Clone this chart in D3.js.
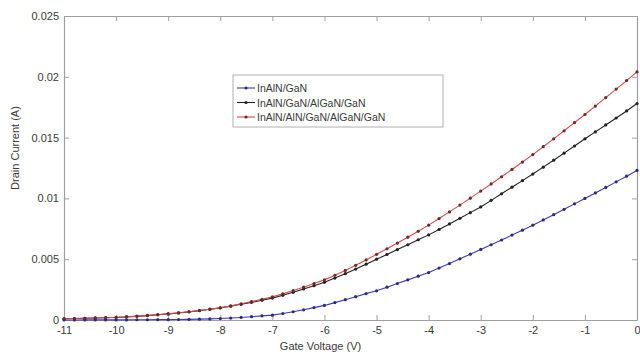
<!DOCTYPE html>
<html>
<head>
<meta charset="utf-8">
<script src="https://cdn.jsdelivr.net/npm/d3@7"></script>
<style>
html,body{margin:0;padding:0;background:#fff;}
svg{display:block;font-family:"Liberation Sans",Arial,sans-serif;}
</style>
</head>
<body>
<svg id="chart" width="640" height="354"></svg>
<script>
const gateVoltage = [-11,-10.8,-10.6,-10.4,-10.2,-10,-9.8,-9.6,-9.4,-9.2,-9,-8.8,-8.6,-8.4,-8.2,-8,-7.8,-7.6,-7.4,-7.2,-7,-6.8,-6.6,-6.4,-6.2,-6,-5.8,-5.6,-5.4,-5.2,-5,-4.8,-4.6,-4.4,-4.2,-4,-3.8,-3.6,-3.4,-3.2,-3,-2.8,-2.6,-2.4,-2.2,-2,-1.8,-1.6,-1.4,-1.2,-1,-0.8,-0.6,-0.4,-0.2,0];
const inAlN_GaN = [0,0,0.00001,0.00001,0.00001,0.00001,0.00001,0.00002,0.00002,0.00003,0.00003,0.00004,0.00005,0.00007,0.00009,0.00012,0.00016,0.00021,0.00027,0.00034,0.0004,0.00053,0.00068,0.00084,0.00102,0.0012,0.00143,0.00167,0.00192,0.00217,0.0024,0.0027,0.003,0.0033,0.0036,0.0039,0.00427,0.00464,0.00503,0.00541,0.0058,0.00619,0.00658,0.00698,0.00739,0.0078,0.00823,0.00866,0.0091,0.00955,0.0100,0.01045,0.0109,0.01136,0.01183,0.0123];
const inAlN_GaN_AlGaN_GaN = [0.0001,0.00012,0.00014,0.00016,0.00018,0.0002,0.00025,0.0003,0.00036,0.00043,0.0005,0.00058,0.00067,0.00077,0.00088,0.0010,0.00114,0.00129,0.00145,0.00162,0.0018,0.00203,0.00228,0.00255,0.00282,0.0031,0.00345,0.00381,0.00419,0.00459,0.0050,0.00539,0.00579,0.00619,0.0066,0.0070,0.00745,0.0079,0.00836,0.00883,0.0093,0.00984,0.01038,0.01092,0.01146,0.0120,0.01257,0.01314,0.01372,0.01431,0.0149,0.01547,0.01604,0.01661,0.01719,0.0178];
const inAlN_AlN_GaN_AlGaN_GaN = [0.0001,0.00012,0.00014,0.00017,0.00019,0.00022,0.00027,0.00032,0.00038,0.00044,0.0005,0.00059,0.00068,0.00078,0.00089,0.0010,0.00116,0.00133,0.00151,0.0017,0.0019,0.00215,0.00242,0.0027,0.0030,0.0033,0.00368,0.00408,0.0045,0.00494,0.0054,0.00586,0.00633,0.00681,0.0073,0.0078,0.00834,0.00889,0.00945,0.01002,0.0106,0.01119,0.01178,0.01238,0.01299,0.0136,0.01425,0.0149,0.01556,0.01623,0.0169,0.01759,0.01829,0.01899,0.01969,0.0204];
const seriesNames = ["InAlN/GaN","InAlN/GaN/AlGaN/GaN","InAlN/AlN/GaN/AlGaN/GaN"];
const seriesColors = ["#3a3acb","#222222","#e04848"];
const xTicks = [-11,-10,-9,-8,-7,-6,-5,-4,-3,-2,-1,0];
const yTicks = [0,0.005,0.01,0.015,0.02,0.025];
const yTickLabels = ["0","0.005","0.01","0.015","0.02","0.025"];

const seriesValues = [inAlN_GaN, inAlN_GaN_AlGaN_GaN, inAlN_AlN_GaN_AlGaN_GaN];

const svg = d3.select("#chart");
const L = 64, R = 637, T = 16, B = 320;
const x = d3.scaleLinear().domain([-11,0]).range([L,R]);
const y = d3.scaleLinear().domain([0,0.025]).range([B,T]);
const axisColor = "#a0a0a0";
const textColor = "#3a3a3a";

// plot background
svg.append("rect").attr("x",L).attr("y",T).attr("width",R-L).attr("height",B-T).attr("fill","#fff");

// axes
const gx = svg.append("g").attr("transform",`translate(0,${B})`)
  .call(d3.axisBottom(x).tickValues(xTicks).tickFormat(d=>d).tickSizeInner(-5).tickSizeOuter(0).tickPadding(6));
const gxt = svg.append("g").attr("transform",`translate(0,${T})`)
  .call(d3.axisTop(x).tickValues(xTicks).tickFormat("").tickSizeInner(-5).tickSizeOuter(0));
const gy = svg.append("g").attr("transform",`translate(${L},0)`)
  .call(d3.axisLeft(y).tickValues(yTicks).tickFormat((d,i)=>yTickLabels[i]).tickSizeInner(-5).tickSizeOuter(0).tickPadding(5));
const gyr = svg.append("g").attr("transform",`translate(${R},0)`)
  .call(d3.axisRight(y).tickValues(yTicks).tickFormat("").tickSizeInner(-5).tickSizeOuter(0));
[gx,gxt,gy,gyr].forEach(g=>{
  g.selectAll("path.domain").attr("stroke",axisColor).attr("stroke-width",1.2);
  g.selectAll(".tick line").attr("stroke",axisColor);
  g.selectAll("text").attr("fill",textColor).attr("font-size",11).attr("font-family","Liberation Sans, Arial, sans-serif");
});

// series
const line = d3.line().x((d,i)=>x(gateVoltage[i])).y(d=>y(d));
seriesValues.forEach((vals,s)=>{
  svg.append("path").datum(vals).attr("d",line)
    .attr("fill","none").attr("stroke",seriesColors[s]).attr("stroke-width",1.1);
  svg.append("g").selectAll("circle").data(vals).join("circle")
    .attr("cx",(d,i)=>x(gateVoltage[i])).attr("cy",d=>y(d)).attr("r",1.6)
    .attr("fill", s===1 ? "#222" : (s===0 ? "#2a2a80" : "#6a2a2a"));
});

// axis labels
svg.append("text").attr("x",(L+R)/2 - 30).attr("y",350).attr("text-anchor","middle")
  .attr("font-size",11).attr("fill",textColor).text("Gate Voltage (V)");
svg.append("text").attr("transform","translate(19,148) rotate(-90)").attr("text-anchor","middle")
  .attr("font-size",11).attr("fill",textColor).text("Drain Current (A)");

// legend
const lg = svg.append("g").attr("transform","translate(233,75)");
lg.append("rect").attr("width",210).attr("height",52).attr("fill","#fff").attr("stroke","#b0b0b0");
seriesNames.forEach((n,i)=>{
  const yy = 13 + i*14.5;
  lg.append("line").attr("x1",4).attr("x2",22).attr("y1",yy).attr("y2",yy).attr("stroke",seriesColors[i]).attr("stroke-width",1.1);
  lg.append("circle").attr("cx",13).attr("cy",yy).attr("r",1.6).attr("fill", i===1 ? "#222" : (i===0 ? "#2a2a80" : "#6a2a2a"));
  lg.append("text").attr("x",24).attr("y",yy+4).attr("font-size",10.5).attr("fill",textColor).text(n);
});
</script>
</body>
</html>
